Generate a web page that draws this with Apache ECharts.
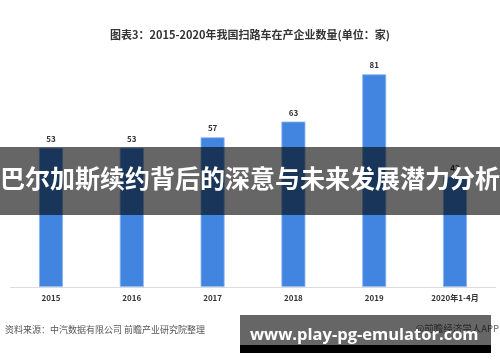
<!DOCTYPE html>
<html><head><meta charset="utf-8">
<script src="https://cdn.jsdelivr.net/npm/echarts@6/dist/echarts.min.js"></script>
<style>html,body{margin:0;padding:0;background:#fff}#c{width:500px;height:362px}</style>
</head><body><div id="c"></div>
<script>
const titleText = '图表3：2015-2020年我国扫路车在产企业数量(单位：家)';
const categories = ['2015','2016','2017','2018','2019','2020年1-4月'];
const values = [53,53,57,63,81,42];
const overlayText = '巴尔加斯续约背后的深意与未来发展潜力分析';
const sourceText = '资料来源：中汽数据有限公司 前瞻产业研究院整理';
const brandText = '@前瞻经济学人APP';
const urlText = 'www.play-pg-emulator.com';

const FONT = '"Noto Sans CJK SC", "Noto Sans", sans-serif';
const chart = echarts.init(document.getElementById('c'));
chart.setOption({
  animation: false,
  title: {
    text: titleText, left: 'center', top: 24,
    textStyle: {fontSize: 11, fontWeight: 'bold', color: '#333', fontFamily: FONT}
  },
  grid: {left: 10.6, right: 4.6, top: 24.4, bottom: 75},
  xAxis: {
    type: 'category', data: categories,
    axisLine: {lineStyle: {color: '#dcdcdc'}},
    axisTick: {show: false},
    axisLabel: {fontSize: 8, fontWeight: 'bold', color: '#333', margin: 7, fontFamily: FONT}
  },
  yAxis: {type: 'value', min: 0, max: 100, show: false, splitLine: {show: false}},
  series: [{
    type: 'bar', data: values, barWidth: 24,
    itemStyle: {color: '#4285e0', borderColor: '#8fb8f0', borderWidth: 0.8},
    label: {show: true, position: 'top', distance: 5, fontSize: 8, fontWeight: 'bold', color: '#333', fontFamily: FONT}
  }],
  graphic: [
    {type: 'rect', z: 100, shape: {x: 0, y: 147, width: 500, height: 68}, style: {fill: 'rgba(0,0,0,0.6)'}},
    {type: 'text', z: 101, left: 'center', top: 166, style: {text: overlayText, fill: '#fff', font: 'bold 25px ' + FONT}},
    {type: 'text', z: 101, left: 5, top: 325, style: {text: sourceText, fill: '#555', font: '9px ' + FONT}},
    {type: 'text', z: 101, right: 1, top: 324, style: {text: brandText, fill: '#666', font: '9.5px ' + FONT}},
    {type: 'rect', z: 102, shape: {x: 240, y: 315, width: 251, height: 30}, style: {fill: 'rgba(0,0,0,0.6)'}},
    {type: 'rect', z: 102, shape: {x: 240, y: 345, width: 251, height: 8}, style: {fill: '#000'}},
    {type: 'text', z: 103, left: 250, top: 327, style: {text: urlText, fill: '#fff', font: 'bold 16.5px "Open Sans", sans-serif'}}
  ]
});
</script></body></html>
